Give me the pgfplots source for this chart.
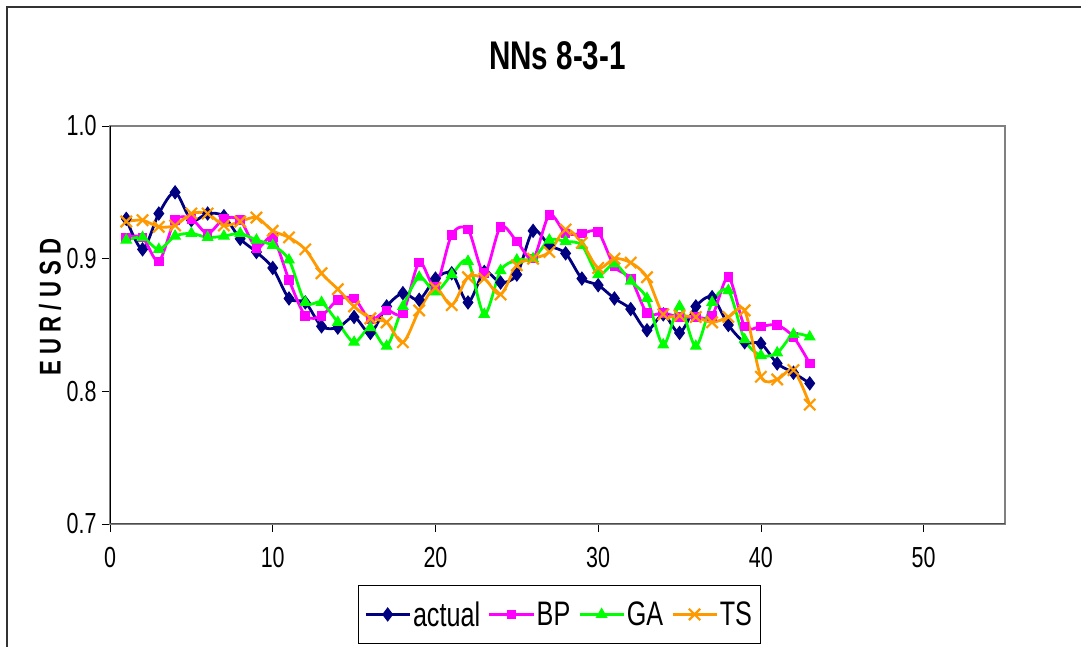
\documentclass[border=0pt]{standalone}
\usepackage{fontspec}
\setmainfont{Liberation Sans}[FakeStretch=0.74]
\usepackage{pgfplots}
\pgfplotsset{compat=1.18}
\definecolor{cnavy}{RGB}{0,0,128}
\definecolor{cmag}{RGB}{255,0,255}
\definecolor{cgreen}{RGB}{0,255,0}
\definecolor{corange}{RGB}{255,153,0}
\begin{document}
\begin{tikzpicture}
\useasboundingbox (0pt,0pt) rectangle (1081pt,647pt);
\draw[line width=1.5pt, black!80] (7pt,-20pt) -- (7pt,640pt) -- (1100pt,640pt);
\begin{axis}[
  at={(110pt,123pt)}, anchor=south west,
  width=895pt, height=398pt, scale only axis,
  xmin=0, xmax=55, ymin=0.7, ymax=1.0,
  xtick={0,10,20,30,40,50}, ytick={0.7,0.8,0.9,1.0},
  xtick pos=left, ytick pos=left,
  tick align=outside, major tick length=8pt,
  tick style={black, line width=0.8pt},
  axis line style={gray, line width=1.5pt},
  /pgf/number format/assume math mode=true,
  yticklabel style={/pgf/number format/fixed, /pgf/number format/fixed zerofill, /pgf/number format/precision=1, font=\fontsize{29}{31}\selectfont, xshift=-2pt},
  xticklabel style={font=\fontsize{29}{31}\selectfont, yshift=-12pt},
  title={\textbf{NNs 8-3-1}},
  title style={font=\fontsize{40}{42}\selectfont, at={(axis description cs:0.5,1.161)}, anchor=center},
  ylabel={\textbf{E U R / U S D}},
  ylabel style={font=\fontsize{30}{32}\selectfont, at={(axis description cs:-0.067,0.545)}, anchor=center},
  legend columns=4,
  legend style={at={(axis description cs:0.277,-0.153)}, anchor=north west, draw=black, line width=1pt,
    font=\fontsize{34}{36}\selectfont, inner xsep=6pt, inner ysep=14pt,
    /tikz/every even column/.append style={column sep=6pt}},
  legend image code/.code={\draw[mark repeat=2, mark phase=2, line width=2.6pt, #1] plot coordinates {(0pt,0pt) (22pt,0pt) (44pt,0pt)};},
  every axis plot/.append style={line width=2.8pt, smooth, tension=0.5},
]
\addplot[cnavy, mark=diamond*, mark size=6.5pt, mark options={solid, fill=cnavy, line width=1pt}] coordinates {
(1,0.930) (2,0.907) (3,0.934) (4,0.950) (5,0.929) (6,0.934) (7,0.932) (8,0.915) (9,0.905) (10,0.893)
(11,0.870) (12,0.867) (13,0.849) (14,0.848) (15,0.856) (16,0.844) (17,0.864) (18,0.874) (19,0.869) (20,0.885)
(21,0.889) (22,0.867) (23,0.890) (24,0.882) (25,0.888) (26,0.921) (27,0.910) (28,0.904) (29,0.885) (30,0.880)
(31,0.870) (32,0.862) (33,0.846) (34,0.858) (35,0.844) (36,0.864) (37,0.871) (38,0.850) (39,0.837) (40,0.836)
(41,0.821) (42,0.814) (43,0.806)};
\addlegendentry{actual}
\addplot[cmag, mark=square*, mark size=4.3pt, mark options={solid, fill=cmag, line width=1pt}] coordinates {
(1,0.916) (2,0.916) (3,0.898) (4,0.929) (5,0.930) (6,0.919) (7,0.930) (8,0.929) (9,0.908) (10,0.916)
(11,0.884) (12,0.857) (13,0.857) (14,0.869) (15,0.870) (16,0.854) (17,0.861) (18,0.859) (19,0.897) (20,0.879)
(21,0.918) (22,0.922) (23,0.889) (24,0.924) (25,0.913) (26,0.900) (27,0.933) (28,0.919) (29,0.919) (30,0.920)
(31,0.894) (32,0.885) (33,0.859) (34,0.859) (35,0.856) (36,0.856) (37,0.857) (38,0.886) (39,0.849) (40,0.849)
(41,0.850) (42,0.841) (43,0.821)};
\addlegendentry{BP}
\addplot[cgreen, mark=triangle*, mark size=6pt, mark options={solid, fill=cgreen, line width=1pt}] coordinates {
(1,0.914) (2,0.916) (3,0.907) (4,0.917) (5,0.919) (6,0.916) (7,0.917) (8,0.919) (9,0.914) (10,0.910)
(11,0.899) (12,0.867) (13,0.867) (14,0.852) (15,0.837) (16,0.848) (17,0.834) (18,0.864) (19,0.886) (20,0.875)
(21,0.888) (22,0.898) (23,0.858) (24,0.891) (25,0.899) (26,0.900) (27,0.914) (28,0.913) (29,0.910) (30,0.888)
(31,0.896) (32,0.883) (33,0.870) (34,0.835) (35,0.864) (36,0.834) (37,0.867) (38,0.876) (39,0.839) (40,0.827)
(41,0.829) (42,0.843) (43,0.841)};
\addlegendentry{GA}
\addplot[corange, mark=x, mark size=8pt, mark options={solid, line width=2.2pt}] coordinates {
(1,0.928) (2,0.929) (3,0.924) (4,0.925) (5,0.934) (6,0.934) (7,0.925) (8,0.928) (9,0.931) (10,0.921)
(11,0.916) (12,0.907) (13,0.889) (14,0.877) (15,0.864) (16,0.855) (17,0.852) (18,0.837) (19,0.861) (20,0.878)
(21,0.865) (22,0.886) (23,0.885) (24,0.873) (25,0.895) (26,0.900) (27,0.905) (28,0.922) (29,0.912) (30,0.893)
(31,0.900) (32,0.897) (33,0.886) (34,0.858) (35,0.857) (36,0.856) (37,0.852) (38,0.856) (39,0.861) (40,0.811)
(41,0.809) (42,0.816) (43,0.790)};
\addlegendentry{TS}
\draw[black, line width=1.2pt] (rel axis cs:0,0) -- (rel axis cs:0,1);
\draw[black!70, line width=1.5pt] (rel axis cs:0,0) -- (rel axis cs:1,0);
\end{axis}
\end{tikzpicture}
\end{document}
